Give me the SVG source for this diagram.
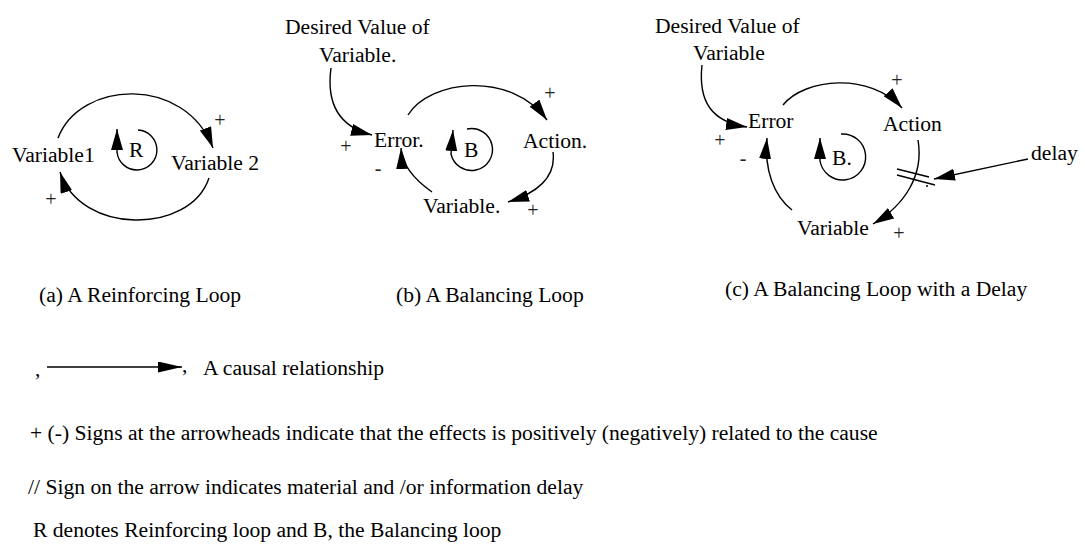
<svg xmlns="http://www.w3.org/2000/svg" width="1085" height="548" viewBox="0 0 1085 548" font-family="'Liberation Serif', 'Times New Roman', serif">
  <style>
    text { font-family: "Liberation Serif", "Times New Roman", serif; font-size: 21.6px; fill: #000; }
    .sign { font-size: 20px; fill: #222; text-anchor: middle; }
    .link { fill: none; stroke: #000; stroke-width: 1.4; marker-end: url(#head); }
    .plain { fill: none; stroke: #000; stroke-width: 1.4; }
  </style>
  <defs>
    <marker id="head" markerUnits="userSpaceOnUse" markerWidth="21" markerHeight="12" refX="21" refY="6" orient="auto">
      <path d="M0,0 L21,6 L0,12 z" fill="#000"/>
    </marker>
    <marker id="headLong" markerUnits="userSpaceOnUse" markerWidth="24" markerHeight="11" refX="24" refY="5.5" orient="auto">
      <path d="M0,0 L24,5.5 L0,11 z" fill="#000"/>
    </marker>
  </defs>

  <!-- (a) reinforcing loop -->
  <g id="a-variable1"><text x="12" y="162">Variable1</text></g>
  <g id="a-variable2"><text x="171" y="170">Variable 2</text></g>
  <g id="a-loop-R"><text x="129" y="157">R</text></g>

  <!-- (b) balancing loop -->
  <g id="b-desired"><text x="285" y="34">Desired Value of</text><text x="319" y="62">Variable.</text></g>
  <g id="b-error"><text x="374" y="147">Error.</text></g>
  <g id="b-action"><text x="523" y="148">Action.</text></g>
  <g id="b-variable"><text x="423" y="213">Variable.</text></g>
  <g id="b-loop-B"><text x="464" y="157">B</text></g>

  <!-- (c) balancing loop with a delay -->
  <g id="c-desired"><text x="655" y="33">Desired Value of</text><text x="693" y="60">Variable</text></g>
  <g id="c-error"><text x="748" y="128">Error</text></g>
  <g id="c-action"><text x="883" y="131">Action</text></g>
  <g id="c-variable"><text x="797" y="235">Variable</text></g>
  <g id="c-loop-B"><text x="832" y="165">B.</text></g>
  <g id="c-delay-label"><text x="1031" y="160">delay</text></g>

  <!-- polarity signs -->
  <g id="signs">
    <text class="sign" x="220" y="127">+</text>
    <text class="sign" x="51" y="206">+</text>
    <text class="sign" x="346" y="153">+</text>
    <text class="sign" x="378" y="175">-</text>
    <text class="sign" x="550" y="100">+</text>
    <text class="sign" x="533" y="217">+</text>
    <text class="sign" x="720" y="147">+</text>
    <text class="sign" x="743" y="165">-</text>
    <text class="sign" x="897" y="87">+</text>
    <text class="sign" x="899" y="240">+</text>
  </g>

  <!-- causal links -->
  <g id="connectors">
    <!-- (a) -->
    <path class="link" d="M58,138 C80,80 185,75 213,148"/>
    <path class="link" d="M209,178 C190,235 80,235 60,172"/>
    <path class="link" d="M138,130 A20,20 0 1,1 117,152 L117,129"/>
    <!-- (b) -->
    <path class="link" d="M331,68 C326,105 340,127 372,135"/>
    <path class="link" d="M408,115 C430,80 510,70 547,120"/>
    <path class="link" d="M553,152 C556,175 540,192 508,202"/>
    <path class="link" d="M432,192 C415,180 402,166 401,148"/>
    <path class="link" d="M467,129 A21,21 0 1,1 451,154 L453,130"/>
    <!-- (c) -->
    <path class="link" d="M702,65 C698,102 712,122 747,127"/>
    <path class="link" d="M783,105 C805,78 870,72 902,108"/>
    <path class="link" d="M918,140 C924,175 905,205 873,224"/>
    <path class="link" d="M792,210 C774,196 764,170 767,138"/>
    <path class="link" d="M841,134 A23,23 0 1,1 820,161 L820,138"/>
    <!-- delay mark on Action -> Variable -->
    <path class="plain" d="M897,169 L929,177 M897,175 L935,185"/>
    <circle cx="927" cy="186" r="1" fill="#000"/>
    <path class="link" d="M1028,159 L934,179"/>
    <!-- legend arrow -->
    <path class="plain" d="M47,367 L182,367" marker-end="url(#headLong)"/>
  </g>

  <!-- captions -->
  <g id="captions">
    <text x="39" y="302">(a) A Reinforcing Loop</text>
    <text x="396" y="302">(b) A Balancing Loop</text>
    <text x="725" y="296">(c) A Balancing Loop with a Delay</text>
  </g>

  <!-- legend -->
  <g id="legend">
    <text x="35" y="376">,</text>
    <text x="182" y="372">,</text>
    <text x="203" y="375">A causal relationship</text>
    <text x="30" y="440">+ (-) Signs at the arrowheads indicate that the effects is positively (negatively) related to the cause</text>
    <text x="28" y="494">// Sign on the arrow indicates material and /or information delay</text>
    <text x="33" y="537">R denotes Reinforcing loop and B, the Balancing loop</text>
  </g>
</svg>
